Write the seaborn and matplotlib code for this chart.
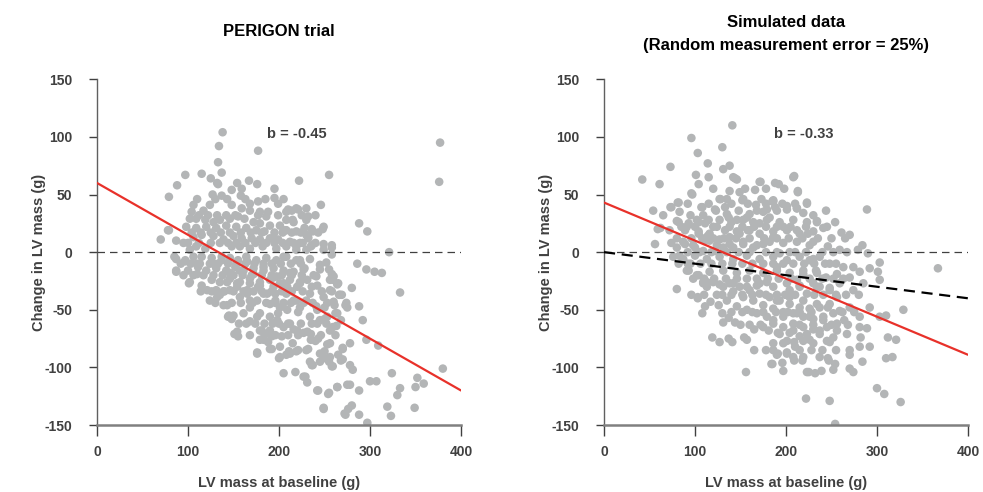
import numpy as np
import pandas as pd
import matplotlib.pyplot as plt
import seaborn as sns

# PERIGON trial: (LV mass at baseline, change in LV mass)
perigon = [
    (138,104),(134,92),(133,78),(137,69),(177,88),(97,67),(88,58),(79,48),(115,68),(125,64),(132,60),
    (70,11),(79,19),(87,10),(95,8),
    (377,95),(376,61),(255,67),(222,62),(246,41),(288,25),(297,18),(321,0),(286,-10),(296,-15),(305,-17),
    (313,-18),(333,-35),(380,-101),(352,-109),(359,-114),(350,-117),(333,-118),(330,-124),(349,-135),
    (319,-134),(323,-142),(297,-148),(288,-141),(280,-133),(272,-140),(249,-135),(255,-122),(243,-120),
    (264,-117),(275,-115),(307,-112),(300,-112),(324,-105),(288,-120),
    (309,-81),(292,-59),(296,-76),(288,-47),(278,-79),(281,-102),(278,-98),(270,-83),(270,-93),(265,-89),
    (258,-99),(255,-95),(249,-92),(245,-88),(236,-98),(229,-108),(231,-113),(218,-104),(205,-105),(201,-91),
    (212,-88),(221,-85),(232,-84),(240,-77),(235,-71),(253,-80),(256,-68),(263,-64),(268,-59),(274,-44),
    (266,-37),(280,-31),(264,-28),(258,-34),(256,-24),(258,-19),(245,-15),(252,-9),(249,2),(258,4),(248,20),
    (237,18),(232,13),(235,5),
    (101,-27),(124,-42),(145,-55),(151,-71),(155,-73),(176,-87),(179,-76),(188,-78),(192,-84),
    (227,-108),(242,-120),(254,-123),(264,-117),(249,-136),(273,-141),(276,-136),(278,-115),(208,-89),
    (211,-86),(219,-86),(230,-85),(234,-95),(237,-98),(245,-95),(250,-86),(256,-91),(259,-99),(268,-94),
    (270,-84),(256,-79),(243,-75),(235,-76),(215,-79),(203,-73),(190,-68),(179,-68),(168,-60),(161,-53),
    (150,-55),(139,-46),(135,-37),(131,-33),(146,-33),(157,-39),(168,-48),(179,-53),(190,-56),(198,-59),
    (212,-62),(220,-68),(231,-69),(242,-62),(250,-58),(259,-65),(264,-53),(275,-48),(261,-46),(250,-48),
    (242,-50),(256,-33),(267,-37),(259,-24),(223,-48),(216,-42),(208,-36),(201,-48),(190,-45),(183,-36),
    (176,-42),(165,-36),(154,-30),(143,-26),(168,-27),(179,-29),(194,-30),(205,-27),(220,-30),(234,-36),
    (242,-29),(231,-24),
    (133,59),(154,60),(167,62),(176,59),(148,54),(159,55),(127,50),(137,49),(158,49),(195,55),(195,47),
    (199,42),(177,44),(168,42),(106,41),(117,36),(124,41),(148,41),(159,38),(168,36),(179,35),(188,35),
    (186,31),(208,35),(214,36),(221,37),(230,38),(208,28),(216,26),(230,28),(104,35),(102,29),(109,29),
    (119,28),(128,26),(135,28),(146,29),(155,31),(162,29),(172,26),(179,25),(190,23),(201,23),(98,22),
    (109,21),(120,22),(131,21),(142,23),(153,22),(164,21),(175,19),(184,18),(208,19),(219,18),(228,21),
    (78,19),(106,13),(115,15),(128,14),(139,11),(150,14),(159,12),(170,12),(179,11),(190,12),(199,11),
    (212,9),(223,8),(232,12),(102,2),(109,5),(119,3),(148,5),(157,5),(168,3),(182,5),(197,3),(208,5),
    (219,2),(230,2),(85,-4),(97,-7),(106,-4),(115,-4),(126,-5),(137,-4),(146,-5),(155,-7),(164,-4),
    (175,-7),(186,-5),(197,-7),(208,-4),(219,-7),(228,-14),(87,-16),(100,-16),(111,-13),(120,-16),
    (131,-14),(142,-16),(152,-13),(161,-16),(172,-14),(183,-16),(194,-14),(205,-16),(216,-17),(102,-26),
    (115,-29),(126,-24),(135,-26),(146,-23),(157,-26),(168,-23),(179,-26),(190,-24),(201,-27),(212,-24),
    (223,-26),
    (210,37),(219,38),(215,28),(232,31),(236,20),(249,22),(207,19),(230,15),(194,12),(219,5),(236,6),
    (249,7),(258,6),(258,-2),(205,-4),(223,-7),(234,-6),(245,-11),(255,-15),(260,-21),(265,-27),(227,-15),
    (212,-18),(197,-21),(241,-21),(236,-30),(223,-27),(209,-30),(196,-36),(219,-42),(230,-42),(241,-47),
    (249,-39),(260,-43),(269,-37),(273,-46),(262,-53),(253,-56),(245,-59),(234,-56),(221,-52),(209,-50),
    (199,-53),(193,-62),(205,-65),(216,-67),(227,-70),(192,-73),(201,-82),(190,-84),
    (87,-6),(97,-8),(87,-17),(110,-19),(121,-33),(132,-39),(139,-34),(143,-46),(144,-56),(148,-58),
    (154,-69),(168,-42),(176,-56),(181,-68),(183,-76),(176,-88),(200,-92),(128,-10),(137,-7),(110,-10),
    (154,-27),(165,-33),(177,-30),(187,-36),(196,-42),(146,-18),(157,-16),(172,-19),(183,-13),(194,-22),
    (165,-8),
    # denser core
    (92,-10),(103,-10),(113,-10),(124,-10),(133,-10),(144,-10),(153,-10),(163,-10),(173,-10),(183,-10),
    (192,-10),(202,-10),(213,-10),(224,-10),
    (95,-20),(106,-20),(117,-20),(128,-20),(138,-20),(150,-20),(160,-20),(170,-20),(181,-20),(192,-20),
    (203,-20),(214,-20),(225,-20),(238,-20),
    (114,-34),(126,-34),(140,-34),(150,-34),(161,-34),(172,-34),(181,-34),(192,-34),(203,-34),(214,-34),
    (226,-34),(247,-34),
    (130,-44),(148,-44),(158,-44),(171,-44),(186,-44),(196,-44),(205,-44),(213,-44),(227,-44),(237,-44),
    (253,-44),
    (156,-62),(164,-62),(174,-62),(184,-62),(200,-62),(210,-62),(224,-62),(236,-62),(252,-62),
    (168,-72),(184,-72),(196,-72),(210,-72),(221,-72),(246,-72),(262,-72),
    (100,8),(112,8),(125,8),(135,8),(144,8),(153,8),(163,8),(174,8),(186,8),(195,8),(204,8),(216,8),
    (226,8),(240,8),
    (104,17),(114,17),(125,17),(136,17),(146,17),(158,17),(169,17),(181,17),(195,17),(204,17),(214,17),
    (224,17),(243,17),
    (112,32),(122,32),(132,32),(142,32),(152,32),(177,32),(199,32),(225,32),(240,32),
    (110,46),(130,46),(143,46),(163,46),(185,46),(205,46),
]

# simulated data, random measurement error = 25%
simulated = [
    (141,110),(96,99),(130,91),(103,86),(114,77),(73,74),(131,72),(138,75),(101,67),(115,65),(142,65),
    (146,63),(42,63),(61,59),(104,59),(97,50),(138,53),(149,52),(172,61),(166,54),(188,60),(127,46),
    (135,46),(153,46),(173,46),(185,44),(82,43),(73,39),(54,36),(65,32),(83,35),(95,32),(108,39),(122,37),
    (133,39),(102,28),(111,25),(82,26),(62,21),(72,19),(91,22),(56,7),(104,16),(114,14),(124,22),(80,4),
    (89,7),(100,4),(109,1),(116,10),(127,11),(138,13),(149,16),(160,19),(171,25),(182,30),(157,30),
    (146,28),(137,30),(168,36),(179,37),(188,39),(142,4),(153,7),(164,4),(175,7),(186,13),(190,22),
    (131,4),(122,1),
    (144,64),(209,66),(171,61),(213,52),(96,51),(128,46),(152,45),(167,41),(186,44),(201,40),(223,43),
    (81,43),(74,39),(107,39),(123,36),(109,32),(135,33),(148,36),(160,33),(175,35),(190,36),(212,38),
    (230,32),(80,27),(93,25),(104,26),(115,28),(127,28),(140,26),(153,28),(164,26),(179,28),(193,26),
    (208,28),(223,26),(234,26),(59,20),(89,19),(104,18),(116,16),(133,19),(146,18),(158,19),(171,16),
    (186,18),(201,19),(215,16),(230,18),(74,8),(87,9),(98,6),(111,10),(124,6),(138,7),(153,9),(168,6),
    (182,9),(197,8),(212,9),(226,6),(76,-4),(87,-6),(100,-3),(113,-6),(127,-4),(142,-6),(157,-3),
    (171,-6),(186,-4),(201,-7),(215,-4),(230,-6),(91,-16),(104,-20),(116,-17),(131,-16),(146,-18),
    (160,-16),(175,-18),(190,-16),(204,-18),(219,-16),(234,-18),(80,-32),(113,-26),(127,-28),(142,-27),
    (157,-30),(171,-27),(186,-30),(201,-27),(215,-30),(230,-27),
    (208,65),(192,59),(213,53),(186,45),(223,42),(212,38),(201,37),(244,36),(289,37),(219,34),(234,27),
    (254,26),(241,21),(261,17),(270,15),(265,12),(224,16),(212,19),(197,22),(230,9),(246,5),(259,2),
    (284,6),(279,2),(290,-1),(303,-9),(292,-14),(301,-17),(303,-24),(367,-14),(193,-1),(204,0),(226,-7),
    (237,-4),(248,-10),(263,-13),(274,-13),(281,-17),(256,-19),(270,-22),(285,-27),(190,-13),(219,-19),
    (233,-16),(244,-22),(259,-27),(274,-33),(266,-37),(256,-39),(248,-33),(237,-30),(212,-24),(190,-42),
    (204,-39),(219,-42),(234,-45),(246,-48),(259,-51),(270,-48),(281,-56),(292,-48),(303,-56),(310,-55),
    (329,-50),(264,-59),(256,-62),(241,-59),(226,-56),(212,-53),(197,-56),(186,-62),(193,-71),(208,-68),
    (223,-71),(237,-68),(252,-74),(267,-71),(281,-65),(282,-74),(289,-66),(312,-74),(321,-76),(186,-79),
    (201,-77),(210,-82),(219,-77),(230,-79),(245,-77),(270,-85),(281,-82),(292,-82),(270,-89),(191,-88),
    (201,-88),(208,-91),(219,-91),(237,-91),(246,-92),(254,-97),(184,-97),(197,-103),(225,-104),
    (232,-105),(239,-103),(252,-102),(270,-101),(274,-104),(284,-95),(310,-92),(317,-91),(300,-118),
    (308,-123),(326,-130),(222,-127),(248,-129),(254,-149),
    (96,-37),(103,-39),(108,-53),(111,-47),(117,-43),(126,-46),(130,-53),(131,-61),(137,-57),(144,-61),
    (119,-74),(127,-78),(137,-75),(141,-78),(154,-74),(157,-76),(156,-104),(165,-67),(175,-65),(181,-68),
    (186,-85),(190,-89),(185,-97),(196,-96),(201,-87),(209,-78),(209,-94),(218,-94),(223,-104),(247,-94),
    (197,-79),(191,-70),(204,-70),(215,-73),(226,-76),(237,-71),(248,-78),(256,-68),(245,-65),(230,-67),
    (219,-65),(208,-62),(197,-65),(186,-59),(179,-56),(168,-53),(157,-50),(146,-47),(135,-42),(124,-37),
    (113,-30),(109,-26),(120,-26),(131,-30),(142,-34),(153,-39),(164,-42),(175,-46),(186,-49),(197,-52),
    (208,-53),(219,-56),(230,-58),(241,-56),(252,-53),(138,-27),(149,-30),(160,-33),(171,-36),(182,-39),
    (193,-42),(204,-45),(215,-48),(226,-49),(237,-48),(248,-45),(168,-29),(204,-33),(223,-36),(241,-37),
    (179,-26),(215,-29),(234,-30),(248,-31),
    (103,-40),(93,-16),(102,-20),(109,-27),(92,-10),(83,-3),
    # denser core
    (82,-10),(95,-10),(106,-10),(118,-10),(130,-10),(141,-10),(152,-10),(163,-10),(175,-10),(186,-10),
    (197,-10),(208,-10),(220,-10),(231,-10),(243,-10),(255,-10),
    (98,-23),(110,-23),(121,-23),(134,-23),(146,-23),(157,-23),(168,-23),(180,-23),(192,-23),(206,-23),
    (226,-23),(240,-23),(252,-23),(263,-23),
    (110,-37),(130,-37),(140,-37),(152,-37),(163,-37),(178,-37),(190,-37),(199,-37),(210,-37),(231,-37),
    (255,-37),(280,-37),
    (140,-52),(152,-52),(163,-52),(175,-52),(189,-52),(202,-52),(215,-52),(228,-52),(262,-52),(275,-52),
    (150,-63),(160,-63),(172,-63),(215,-63),(230,-63),(250,-63),(268,-63),
    (165,-85),(178,-85),(215,-85),(228,-85),(240,-85),(255,-85),
    (92,0),(105,0),(118,0),(135,0),(148,0),(160,0),(178,0),(190,0),(210,0),(222,0),(240,0),(252,0),(267,0),
    (80,12),(96,12),(108,12),(120,12),(132,12),(145,12),(160,12),(176,12),(190,12),(203,12),(218,12),
    (235,12),(250,12),
    (85,22),(100,22),(120,22),(138,22),(152,22),(165,22),(178,22),(205,22),(222,22),(245,22),
    (92,42),(115,42),(140,42),(158,42),(178,42),(196,42),(210,42),
    (120,55),(155,55),(178,55),(198,55),
]

titles = ["PERIGON trial", "Simulated data\n(Random measurement error = 25%)"]
title_pads = [31, 21]
slopes = [-0.45, -0.33]
intercepts = [60, 43]
true_slope = -0.10   # dashed line on the simulated panel
b_labels = ["b = -0.45", "b = -0.33"]

sns.set_style("ticks")
plt.rcParams['font.family'] = ['Liberation Sans', 'DejaVu Sans']
plt.rcParams['font.weight'] = 'bold'
plt.rcParams['axes.unicode_minus'] = False

fig = plt.figure(figsize=(9.83, 4.92), dpi=100)
ax1 = fig.add_axes([0.0987, 0.136, 0.3703, 0.703])
ax2 = fig.add_axes([0.6145, 0.136, 0.3702, 0.703])

dark = '#404040'
for i, (ax, pts) in enumerate(zip([ax1, ax2], [perigon, simulated])):
    df = pd.DataFrame(pts, columns=['baseline', 'change'])
    sns.scatterplot(data=df, x='baseline', y='change', ax=ax, color='#b3b5b6',
                    s=38, edgecolor='none', linewidth=0, zorder=2)
    ax.axhline(0, color='#404040', lw=0.9, ls=(0, (6, 4)), zorder=3)
    if i == 1:
        ax.axline((0, 0), slope=true_slope, color='black', lw=1.6, ls=(0, (5, 3)), zorder=4)
    ax.axline((0, intercepts[i]), slope=slopes[i], color='#e8312a', lw=1.6, zorder=5)

    ax.set_xlim(0, 400)
    ax.set_ylim(-150, 150)
    ax.set_xticks([0, 100, 200, 300, 400])
    ax.set_yticks([-150, -100, -50, 0, 50, 100, 150])
    ax.tick_params(axis='y', length=6, width=1, color=dark, labelsize=10, labelcolor=dark, pad=12)
    ax.tick_params(axis='x', length=8, width=1, color=dark, labelsize=10, labelcolor=dark, pad=6)
    for lab in ax.get_xticklabels() + ax.get_yticklabels():
        lab.set_fontweight('bold')
    sns.despine(ax=ax)
    ax.spines['left'].set_color('#606060')
    ax.spines['left'].set_linewidth(1.0)
    ax.spines['bottom'].set_color('#808080')
    ax.spines['bottom'].set_linewidth(1.8)

    ax.set_xlabel('LV mass at baseline (g)', fontsize=10.5, fontweight='bold', color=dark)
    ax.set_ylabel('Change in LV mass (g)', fontsize=10.5, fontweight='bold', color=dark)
    ax.xaxis.set_label_coords(0.5, -0.147)
    ax.yaxis.set_label_coords(-0.14, 0.5)
    ax.set_title(titles[i], fontsize=12, fontweight='bold', color='black',
                 pad=title_pads[i], linespacing=1.65)
    ax.text(0.55, 0.83, b_labels[i], transform=ax.transAxes, fontsize=10.5,
            fontweight='bold', color=dark, ha='center')

fig.savefig('out.png', dpi=100)
